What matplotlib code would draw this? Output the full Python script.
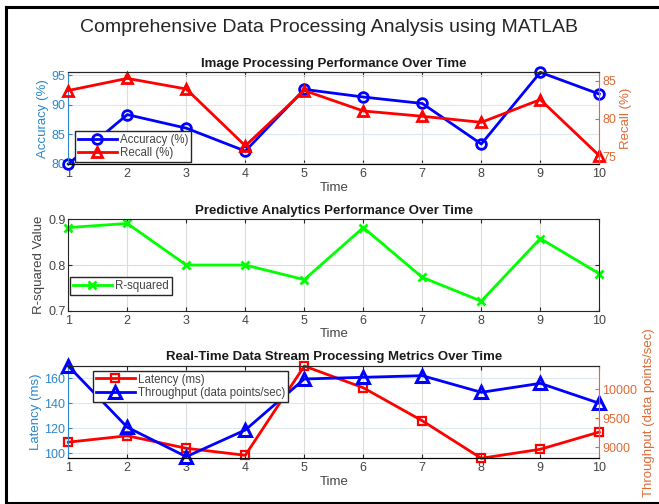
import numpy as np
import matplotlib
matplotlib.use('Agg')
import matplotlib.pyplot as plt

plt.rcParams['font.family'] = ['Liberation Sans', 'DejaVu Sans']

# data
time = [1, 2, 3, 4, 5, 6, 7, 8, 9, 10]
accuracy = [79.9, 88.3, 86.0, 82.1, 92.6, 91.3, 90.2, 83.3, 95.5, 91.8]
recall = [83.7, 85.3, 83.9, 76.4, 83.7, 81.0, 80.3, 79.5, 82.5, 75.1]
r_squared = [0.882, 0.891, 0.800, 0.800, 0.768, 0.882, 0.773, 0.721, 0.858, 0.781]
latency = [108.9, 114.0, 104.0, 98.4, 169.8, 152.4, 126.0, 96.0, 103.2, 117.0]
throughput = [10402, 9345, 8838, 9298, 10178, 10207, 10235, 9948, 10103, 9759]

LEFT_C = '#2b86cc'
RIGHT_C = '#de6a35'
AX_C = '#262626'
TXT_C = '#444444'
GRID_C = '#dcdcdc'

fig = plt.figure(figsize=(6.59, 5.04), dpi=100)

# window frame
fig.add_artist(plt.Line2D([6/659, 6/659], [1-7/504, 1-503/504], color='black', lw=2.2, transform=fig.transFigure))
fig.add_artist(plt.Line2D([6/659, 1.0], [1-7/504, 1-7/504], color='black', lw=2.2, transform=fig.transFigure))
fig.add_artist(plt.Line2D([6/659, 1.0], [1-503/504, 1-503/504], color='black', lw=2.2, transform=fig.transFigure))

fig.text(0.5, 1-28/504, 'Comprehensive Data Processing Analysis using MATLAB',
         ha='center', va='center', fontsize=14, color='#262626')


def style_x(ax):
    ax.set_xlim(1, 10)
    ax.set_xticks(time)
    ax.tick_params(axis='x', direction='in', top=True, labelsize=9, colors=AX_C,
                   labelcolor=TXT_C, length=3, pad=3)
    ax.xaxis.grid(True, color=GRID_C, lw=0.8)
    ax.set_xlabel('Time', fontsize=9.5, color=TXT_C, labelpad=1)
    for s in ['top', 'bottom']:
        ax.spines[s].set_color(AX_C)


def style_yy(ax, ax2, title):
    style_x(ax)
    ax.set_title(title, fontsize=9.5, fontweight='bold', color='#1a1a1a', pad=4)
    ax.tick_params(axis='y', direction='in', colors=LEFT_C, labelsize=9, length=3, pad=2)
    ax2.tick_params(axis='y', direction='in', colors=RIGHT_C, labelsize=9, length=3, pad=2)
    ax.spines['left'].set_color(LEFT_C)
    ax.spines['right'].set_visible(False)
    ax2.spines['right'].set_color(RIGHT_C)
    ax2.spines['left'].set_visible(False)
    ax2.spines['top'].set_color(AX_C)
    ax.yaxis.grid(True, color='#dde8f1', lw=0.8)
    ax.set_axisbelow(True)


def make_legend(ax, handles, labels, **kw):
    leg = ax.legend(handles, labels, fontsize=8.3, frameon=True, fancybox=False, numpoints=1,
                    edgecolor='#262626', handlelength=3.4, borderpad=0.25, labelspacing=0.1,
                    handletextpad=0.3, borderaxespad=0, framealpha=1, **kw)
    leg.get_frame().set_linewidth(1.0)
    for t in leg.get_texts():
        t.set_color(TXT_C)
    return leg


W = 0.8058
L = 0.1036

# --- Image processing
ax1 = fig.add_axes([L, 0.6746, W, 0.1819])
ax1b = ax1.twinx()
l1, = ax1.plot(time, accuracy, '-o', color='blue', lw=2, ms=7, mfc='none', mew=2, clip_on=False)
l2, = ax1b.plot(time, recall, '-^', color='red', lw=2, ms=7, mfc='none', mew=2, clip_on=False)
ax1.set_ylim(min(accuracy), max(accuracy))
ax1.set_yticks([80, 85, 90, 95])
ax1b.set_ylim(74.0, 86.1)
ax1b.set_yticks([75, 80, 85])
ax1.set_ylabel('Accuracy (%)', color=LEFT_C, fontsize=9.5, labelpad=2)
ax1b.set_ylabel('Recall (%)', color=RIGHT_C, fontsize=9.5, labelpad=3)
style_yy(ax1, ax1b, 'Image Processing Performance Over Time')
make_legend(ax1b, [l1, l2], ['Accuracy (%)', 'Recall (%)'], loc='lower left',
            bbox_to_anchor=(0.012, 0.02))

# --- Predictive analytics
ax2 = fig.add_axes([L, 0.3835, W, 0.1813])
l3, = ax2.plot(time, r_squared, '-x', color='#00ff00', lw=2, ms=6, mew=2, clip_on=False)
ax2.set_ylim(0.7, 0.9)
ax2.set_yticks([0.7, 0.8, 0.9])
ax2.tick_params(axis='y', direction='in', right=True, colors=AX_C, labelcolor=TXT_C,
                labelsize=9, length=3, pad=2)
style_x(ax2)
ax2.yaxis.grid(True, color=GRID_C, lw=0.8)
ax2.set_axisbelow(True)
for s in ['left', 'right']:
    ax2.spines[s].set_color(AX_C)
ax2.set_title('Predictive Analytics Performance Over Time', fontsize=9.5, fontweight='bold',
              color='#1a1a1a', pad=4)
ax2.set_ylabel('R-squared Value', color=TXT_C, fontsize=9.5, labelpad=2)
make_legend(ax2, [l3], ['R-squared'], loc='lower left', bbox_to_anchor=(0.003, 0.17))

# --- Real-time stream
ax3 = fig.add_axes([L, 0.0907, W, 0.1831])
ax3b = ax3.twinx()
l4, = ax3.plot(time, latency, '-s', color='red', lw=2, ms=6, mfc='none', mew=1.6, clip_on=False)
l5, = ax3b.plot(time, throughput, '-^', color='blue', lw=2, ms=8, mfc='none', mew=2.2, clip_on=False)
ax3.set_ylim(min(latency), max(latency))
ax3.set_yticks([100, 120, 140, 160])
ax3b.set_ylim(min(throughput) - 28, max(throughput))
ax3b.set_yticks([9000, 9500, 10000])
ax3.set_ylabel('Latency (ms)', color=LEFT_C, fontsize=9.5, labelpad=2)
ax3b.set_ylabel('Throughput (data points/sec)', color=RIGHT_C, fontsize=9.5, labelpad=4)
style_yy(ax3, ax3b, 'Real-Time Data Stream Processing Metrics Over Time')
make_legend(ax3b, [l4, l5], ['Latency (ms)', 'Throughput (data points/sec)'], loc='upper left',
            bbox_to_anchor=(0.046, 0.95))

fig.savefig('out.png', dpi=100)
